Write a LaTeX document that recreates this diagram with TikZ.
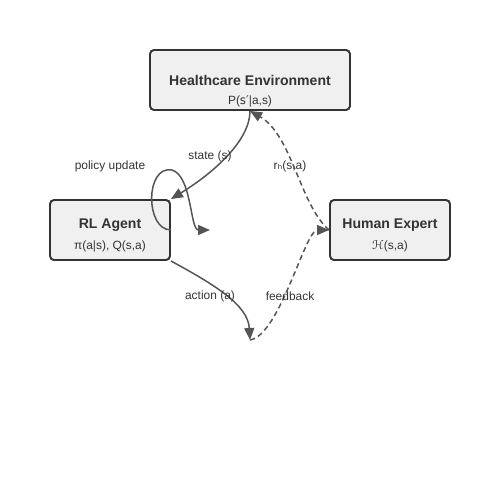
\documentclass[tikz,border=0pt]{standalone}
\usepackage{fontspec}
\setmainfont{Liberation Sans}
\newfontfamily\symfont{DejaVu Sans}
\usepackage{tikz}
\usetikzlibrary{arrows.meta}

\definecolor{boxfill}{HTML}{F0F0F0}
\definecolor{boxline}{HTML}{333333}
\definecolor{linkcol}{HTML}{555555}

\tikzset{
    block/.style={rectangle, rounded corners=0.08cm, draw=boxline, line width=1.1pt, fill=boxfill, inner sep=0pt},
    title/.style={font=\fontsize{8}{9}\selectfont\bfseries, text=boxline, inner sep=0pt},
    sub/.style={font=\fontsize{6.8}{8}\selectfont, text=boxline, inner sep=0pt},
    tag/.style={font=\fontsize{6.8}{8}\selectfont, text=boxline, inner sep=0pt},
    link/.style={draw=linkcol, line width=0.85pt, -{Triangle[length=0.24cm,width=0.2cm]}},
    fb/.style={link, dash pattern=on 3pt off 2pt}
}

\begin{document}
\begin{tikzpicture}[x=0.02cm, y=-0.02cm]
        \useasboundingbox (0,0) rectangle (500,500);
        \begin{scope}
            \node [block, minimum width=4cm, minimum height=1.2cm] (env) at (250,80) {};
            \node [block, minimum width=2.4cm, minimum height=1.2cm] (agent) at (110,230) {};
            \node [block, minimum width=2.4cm, minimum height=1.2cm] (expert) at (390,230) {};
            \node [title] (envtitle) at (250,80) {Healthcare Environment};
            \node [title] (agenttitle) at (110,225) {RL Agent};
            \node [title] (experttitle) at (390,225) {Human Expert};
            \node [sub] (envsub) at (250,101) {P({\symfont s′}|a,s)};
            \node [sub] (agentsub) at (110,246) {π(a|s), Q(s,a)};
            \node [sub] (expertsub) at (390,246) {{\symfont ℋ}(s,a)};
            \coordinate (loopend) at (210,230);
            \coordinate (act) at (250,340);
            % agent <-> environment
            \draw [link] (env.south) .. controls (250,140) and (215,172) .. (agent.north east);
            \draw [link] (agent.east) .. controls (145,230) and (145,165) .. (172,170) .. controls (192,176) and (190,230) .. (loopend);
            \draw [link] (agent.south east) .. controls (215,285) and (248,305) .. (act);
            % expert
            \draw [fb] (act) .. controls (280,335) and (305,230) .. (expert.west);
            \draw [fb] (expert.west) .. controls (300,205) and (292,135) .. (env.south);
            \node [tag] (lstate) at (210,156) {state (s)};
            \node [tag] (lpolicy) at (110,166) {policy update};
            \node [tag] (lreward) at (290,166) {r{\symfont ₕ}(s,a)};
            \node [tag] (laction) at (210,296) {action (a)};
            \node [tag] (lfeed) at (290,296) {feedback};
        \end{scope}
\end{tikzpicture}
\end{document}
